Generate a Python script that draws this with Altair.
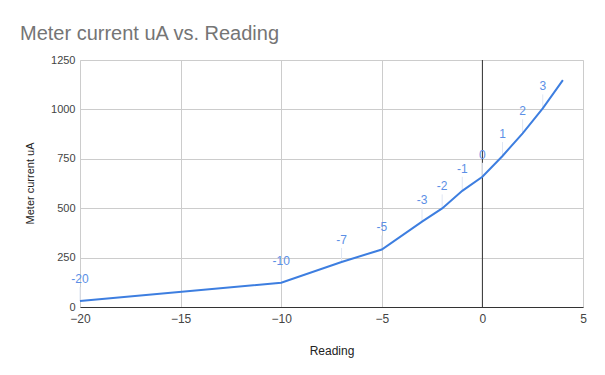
import altair as alt
import pandas as pd

readings = [-20, -10, -7, -5, -3, -2, -1, 0, 1, 2, 3, 4]
current = [30, 123, 228, 291, 432, 499, 588, 659, 764, 879, 1005, 1148]
point_labels = ["-20", "-10", "-7", "-5", "-3", "-2", "-1", "0", "1", "2", "3", ""]

x_ticks = [-20, -15, -10, -5, 0, 5]
y_ticks = [0, 250, 500, 750, 1000, 1250]

df = pd.DataFrame({"Reading": readings, "Current": current, "Label": point_labels})
lab_df = df[df["Label"] != ""]

FONT = "Liberation Sans"
LINE = "#3d7ee0"

x_scale = alt.Scale(domain=[-20, 5], nice=False, zero=False)
y_scale = alt.Scale(domain=[0, 1250], nice=False)

x_enc = alt.X(
    "Reading:Q",
    scale=x_scale,
    axis=alt.Axis(
        values=x_ticks,
        format="d",
        title="Reading",
        titleY=43,
        titleBaseline="middle",
        titleFont=FONT,
        titleFontSize=12,
        titleFontWeight="normal",
        titleColor="#222222",
        labelFont=FONT,
        labelFontSize=12,
        labelColor="#444444",
        labelPadding=6,
        ticks=False,
        domain=True,
        domainColor="#333333",
        grid=True,
        gridColor="#cccccc",
        labelFlush=False,
    ),
)
y_enc = alt.Y(
    "Current:Q",
    scale=y_scale,
    axis=alt.Axis(
        values=y_ticks,
        format="d",
        title="Meter current uA",
        titleX=-50,
        titleY=123,
        titleAngle=270,
        titleAlign="center",
        titleBaseline="middle",
        titleFont=FONT,
        titleFontSize=11,
        titleFontWeight="normal",
        titleColor="#222222",
        labelFont=FONT,
        labelFontSize=11,
        labelColor="#444444",
        labelPadding=5,
        ticks=False,
        domain=False,
        grid=True,
        gridColor="#cccccc",
    ),
)

base = alt.Chart(df)

zero_line = alt.Chart(pd.DataFrame({"Reading": [0]})).mark_rule(
    color="#333333", strokeWidth=1
).encode(x=alt.X("Reading:Q", scale=x_scale))

leaders = alt.Chart(lab_df).mark_rule(
    color="#dfe6f3", strokeWidth=1, y2Offset=-14
).encode(x="Reading:Q", y="Current:Q", y2=alt.Y2("Current:Q"))

line = base.mark_line(color=LINE, strokeWidth=2).encode(x=x_enc, y=y_enc)

labels = alt.Chart(lab_df).mark_text(
    font=FONT, fontSize=12, color="#5b8fe6", dy=-22, baseline="middle", align="center"
).encode(x="Reading:Q", y="Current:Q", text="Label:N")

chart = (
    alt.layer(zero_line, leaders, line, labels)
    .properties(
        width=503,
        height=247,
        autosize=alt.AutoSizeParams(type="none"),
        padding={"left": 72, "top": 52, "right": 14, "bottom": 59},
        title=alt.TitleParams(
            "Meter current uA vs. Reading",
            anchor="start",
            frame="group",
            dx=-60,
            dy=8,
            offset=18,
            font=FONT,
            fontSize=20,
            fontWeight="normal",
            color="#757575",
        ),
    )
    .configure_view(stroke=None)
    .configure(background="white")
)

chart.save("out.html", embed_options={"renderer": "svg", "actions": False})
